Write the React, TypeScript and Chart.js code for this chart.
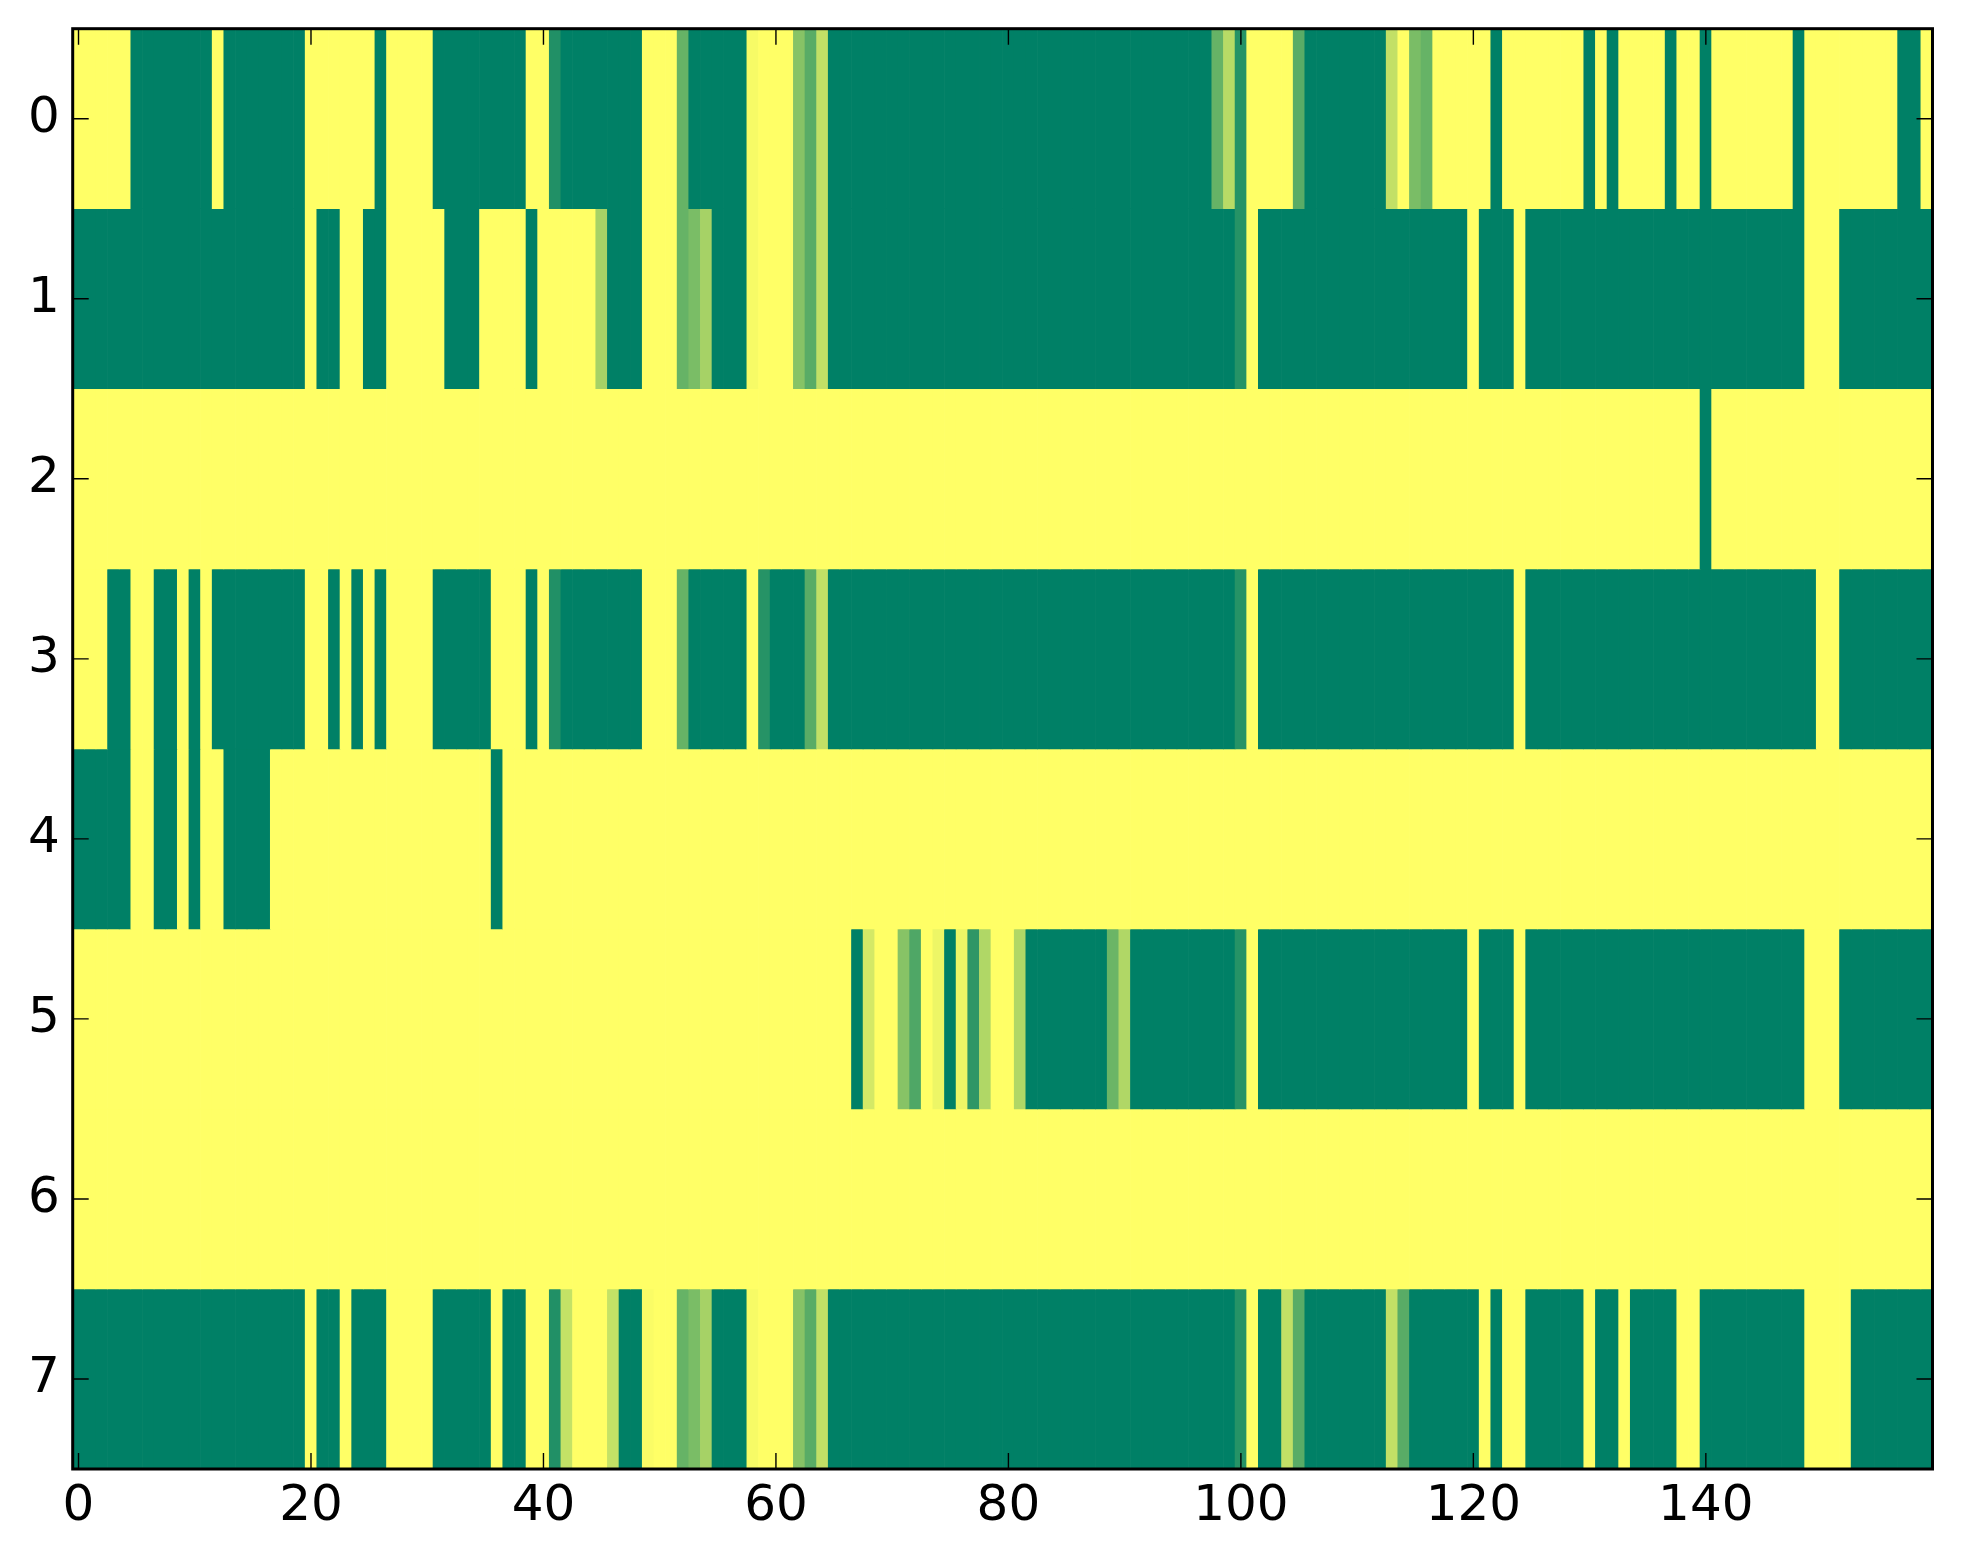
import { useEffect, useRef } from "react";
import { Chart, registerables } from "chart.js";

Chart.register(...registerables);

// Tick labels
const xTickValues = [0, 20, 40, 60, 80, 100, 120, 140];
const yTickValues = [0, 1, 2, 3, 4, 5, 6, 7];

// Cell values (0 = green, 1 = yellow on the "summer" colormap), 160 columns per row
const row0 = [
  1, 1, 1, 1, 1, 0, 0, 0, 0, 0,
  0, 0, 1, 0, 0, 0, 0, 0, 0, 0,
  1, 1, 1, 1, 1, 1, 0, 1, 1, 1,
  1, 0, 0, 0, 0, 0, 0, 0, 0, 1,
  1, 0.13, 0, 0, 0, 0, 0, 0, 0, 1,
  1, 1, 0.4, 0, 0, 0, 0, 0, 0.97, 1,
  1, 1, 0.53, 0.35, 0.76, 0, 0, 0, 0, 0,
  0, 0, 0, 0, 0, 0, 0, 0, 0, 0,
  0, 0, 0, 0, 0, 0, 0, 0, 0, 0,
  0, 0, 0, 0, 0, 0, 0, 0, 0.4, 0.72,
  0.15, 1, 1, 1, 1, 0.35, 0, 0, 0, 0,
  0, 0, 0, 0.76, 1, 0.48, 0.4, 1, 1, 1,
  1, 1, 0, 1, 1, 1, 1, 1, 1, 1,
  0, 1, 0, 1, 1, 1, 1, 0, 1, 1,
  0, 1, 1, 1, 1, 1, 1, 1, 0, 1,
  1, 1, 1, 1, 1, 1, 1, 0, 0, 1,
];

const row1 = [
  0, 0, 0, 0, 0, 0, 0, 0, 0, 0,
  0, 0, 0, 0, 0, 0, 0, 0, 0, 0,
  1, 0, 0, 1, 1, 0, 0, 1, 1, 1,
  1, 1, 0, 0, 0, 1, 1, 1, 1, 0,
  1, 1, 1, 1, 1, 0.65, 0, 0, 0, 1,
  1, 1, 0.4, 0.48, 0.65, 0, 0, 0, 0.97, 1,
  1, 1, 0.53, 0.35, 0.76, 0, 0, 0, 0, 0,
  0, 0, 0, 0, 0, 0, 0, 0, 0, 0,
  0, 0, 0, 0, 0, 0, 0, 0, 0, 0,
  0, 0, 0, 0, 0, 0, 0, 0, 0, 0,
  0.15, 1, 0, 0, 0, 0, 0, 0, 0, 0,
  0, 0, 0, 0, 0, 0, 0, 0, 0, 0,
  1, 0, 0, 0, 1, 0, 0, 0, 0, 0,
  0, 0, 0, 0, 0, 0, 0, 0, 0, 0,
  0, 0, 0, 0, 0, 0, 0, 0, 0, 1,
  1, 1, 0, 0, 0, 0, 0, 0, 0, 0,
];

const row2 = [
  1, 1, 1, 1, 1, 1, 1, 1, 1, 1,
  1, 1, 1, 1, 1, 1, 1, 1, 1, 1,
  1, 1, 1, 1, 1, 1, 1, 1, 1, 1,
  1, 1, 1, 1, 1, 1, 1, 1, 1, 1,
  1, 1, 1, 1, 1, 1, 1, 1, 1, 1,
  1, 1, 1, 1, 1, 1, 1, 1, 1, 1,
  1, 1, 1, 1, 1, 1, 1, 1, 1, 1,
  1, 1, 1, 1, 1, 1, 1, 1, 1, 1,
  1, 1, 1, 1, 1, 1, 1, 1, 1, 1,
  1, 1, 1, 1, 1, 1, 1, 1, 1, 1,
  1, 1, 1, 1, 1, 1, 1, 1, 1, 1,
  1, 1, 1, 1, 1, 1, 1, 1, 1, 1,
  1, 1, 1, 1, 1, 1, 1, 1, 1, 1,
  1, 1, 1, 1, 1, 1, 1, 1, 1, 1,
  0, 1, 1, 1, 1, 1, 1, 1, 1, 1,
  1, 1, 1, 1, 1, 1, 1, 1, 1, 1,
];

const row3 = [
  1, 1, 1, 0, 0, 1, 1, 0, 0, 1,
  0, 1, 0, 0, 0, 0, 0, 0, 0, 0,
  1, 1, 0, 1, 0, 1, 0, 1, 1, 1,
  1, 0, 0, 0, 0, 0, 1, 1, 1, 0,
  1, 0.13, 0, 0, 0, 0, 0, 0, 0, 1,
  1, 1, 0.4, 0, 0, 0, 0, 0, 1, 0.15,
  0, 0, 0, 0.35, 0.76, 0, 0, 0, 0, 0,
  0, 0, 0, 0, 0, 0, 0, 0, 0, 0,
  0, 0, 0, 0, 0, 0, 0, 0, 0, 0,
  0, 0, 0, 0, 0, 0, 0, 0, 0, 0,
  0.15, 1, 0, 0, 0, 0, 0, 0, 0, 0,
  0, 0, 0, 0, 0, 0, 0, 0, 0, 0,
  0, 0, 0, 0, 1, 0, 0, 0, 0, 0,
  0, 0, 0, 0, 0, 0, 0, 0, 0, 0,
  0, 0, 0, 0, 0, 0, 0, 0, 0, 0,
  1, 1, 0, 0, 0, 0, 0, 0, 0, 0,
];

const row4 = [
  0, 0, 0, 0, 0, 1, 1, 0, 0, 1,
  0, 1, 1, 0, 0, 0, 0, 1, 1, 1,
  1, 1, 1, 1, 1, 1, 1, 1, 1, 1,
  1, 1, 1, 1, 1, 1, 0, 1, 1, 1,
  1, 1, 1, 1, 1, 1, 1, 1, 1, 1,
  1, 1, 1, 1, 1, 1, 1, 1, 1, 1,
  1, 1, 1, 1, 1, 1, 1, 1, 1, 1,
  1, 1, 1, 1, 1, 1, 1, 1, 1, 1,
  1, 1, 1, 1, 1, 1, 1, 1, 1, 1,
  1, 1, 1, 1, 1, 1, 1, 1, 1, 1,
  1, 1, 1, 1, 1, 1, 1, 1, 1, 1,
  1, 1, 1, 1, 1, 1, 1, 1, 1, 1,
  1, 1, 1, 1, 1, 1, 1, 1, 1, 1,
  1, 1, 1, 1, 1, 1, 1, 1, 1, 1,
  1, 1, 1, 1, 1, 1, 1, 1, 1, 1,
  1, 1, 1, 1, 1, 1, 1, 1, 1, 1,
];

const row5 = [
  1, 1, 1, 1, 1, 1, 1, 1, 1, 1,
  1, 1, 1, 1, 1, 1, 1, 1, 1, 1,
  1, 1, 1, 1, 1, 1, 1, 1, 1, 1,
  1, 1, 1, 1, 1, 1, 1, 1, 1, 1,
  1, 1, 1, 1, 1, 1, 1, 1, 1, 1,
  1, 1, 1, 1, 1, 1, 1, 1, 1, 1,
  1, 1, 1, 1, 1, 1, 1, 0, 0.83, 1,
  1, 0.53, 0.31, 1, 0.93, 0, 0.93, 0.18, 0.69, 1,
  1, 0.69, 0, 0, 0, 0, 0, 0, 0, 0.42,
  0.69, 0, 0, 0, 0, 0, 0, 0, 0, 0,
  0.15, 1, 0, 0, 0, 0, 0, 0, 0, 0,
  0, 0, 0, 0, 0, 0, 0, 0, 0, 0,
  1, 0, 0, 0, 1, 0, 0, 0, 0, 0,
  0, 0, 0, 0, 0, 0, 0, 0, 0, 0,
  0, 0, 0, 0, 0, 0, 0, 0, 0, 1,
  1, 1, 0, 0, 0, 0, 0, 0, 0, 0,
];

const row6 = [
  1, 1, 1, 1, 1, 1, 1, 1, 1, 1,
  1, 1, 1, 1, 1, 1, 1, 1, 1, 1,
  1, 1, 1, 1, 1, 1, 1, 1, 1, 1,
  1, 1, 1, 1, 1, 1, 1, 1, 1, 1,
  1, 1, 1, 1, 1, 1, 1, 1, 1, 1,
  1, 1, 1, 1, 1, 1, 1, 1, 1, 1,
  1, 1, 1, 1, 1, 1, 1, 1, 1, 1,
  1, 1, 1, 1, 1, 1, 1, 1, 1, 1,
  1, 1, 1, 1, 1, 1, 1, 1, 1, 1,
  1, 1, 1, 1, 1, 1, 1, 1, 1, 1,
  1, 1, 1, 1, 1, 1, 1, 1, 1, 1,
  1, 1, 1, 1, 1, 1, 1, 1, 1, 1,
  1, 1, 1, 1, 1, 1, 1, 1, 1, 1,
  1, 1, 1, 1, 1, 1, 1, 1, 1, 1,
  1, 1, 1, 1, 1, 1, 1, 1, 1, 1,
  1, 1, 1, 1, 1, 1, 1, 1, 1, 1,
];

const row7 = [
  0, 0, 0, 0, 0, 0, 0, 0, 0, 0,
  0, 0, 0, 0, 0, 0, 0, 0, 0, 0,
  1, 0, 0, 1, 0, 0, 0, 1, 1, 1,
  1, 0, 0, 0, 0, 0, 1, 0, 0, 1,
  1, 0.13, 0.77, 1, 1, 1, 0.77, 0, 0, 0.98,
  1, 1, 0.4, 0.48, 0.65, 0, 0, 0, 0.97, 1,
  1, 1, 0.53, 0.35, 0.76, 0, 0, 0, 0, 0,
  0, 0, 0, 0, 0, 0, 0, 0, 0, 0,
  0, 0, 0, 0, 0, 0, 0, 0, 0, 0,
  0, 0, 0, 0, 0, 0, 0, 0, 0, 0,
  0.15, 1, 0, 0, 0.76, 0.35, 0, 0, 0, 0,
  0, 0, 0, 0.76, 0.35, 0, 0, 0, 0, 0,
  0, 1, 0, 1, 1, 0, 0, 0, 0, 0,
  1, 0, 0, 1, 0, 0, 0, 0, 1, 1,
  0, 0, 0, 0, 0, 0, 0, 0, 0, 1,
  1, 1, 1, 0, 0, 0, 0, 0, 0, 0,
];

const rows = [row0, row1, row2, row3, row4, row5, row6, row7];

// matplotlib "summer" colormap
function summer(v: number): string {
  const r = Math.round(255 * v);
  const g = Math.round(255 * (0.5 + 0.5 * v));
  return `rgb(${r},${g},102)`;
}

const FONT = { family: "'DejaVu Sans', sans-serif", size: 50 };

const framePlugin = {
  id: "frameTicks",
  afterDatasetsDraw(chart: any) {
    const { ctx, chartArea: a, scales } = chart;
    ctx.save();
    ctx.strokeStyle = "#000";
    ctx.lineWidth = 1.4;
    ctx.beginPath();
    xTickValues.forEach((v) => {
      const px = scales.x.getPixelForValue(v);
      ctx.moveTo(px, a.bottom);
      ctx.lineTo(px, a.bottom - 16);
      ctx.moveTo(px, a.top);
      ctx.lineTo(px, a.top + 16);
    });
    yTickValues.forEach((v) => {
      const py = scales.y.getPixelForValue(v);
      ctx.moveTo(a.left, py);
      ctx.lineTo(a.left + 16, py);
      ctx.moveTo(a.right, py);
      ctx.lineTo(a.right - 16, py);
    });
    ctx.stroke();
    ctx.lineWidth = 3;
    ctx.strokeRect(a.left, a.top, a.right - a.left, a.bottom - a.top);
    ctx.restore();
  },
};

export default function App() {
  const canvasRef = useRef<HTMLCanvasElement | null>(null);

  useEffect(() => {
    if (!canvasRef.current) return;
    const datasets = rows.map((vals, r) => ({
      label: `row ${r}`,
      data: vals.map((_, c) => ({ x: c, y: [r - 0.5, r + 0.5] })),
      backgroundColor: vals.map(summer),
      borderWidth: 0,
      barPercentage: 1,
      categoryPercentage: 1,
      grouped: false,
    }));

    const chart = new Chart(canvasRef.current, {
      type: "bar",
      data: { datasets: datasets as any },
      options: {
        animation: false,
        responsive: true,
        maintainAspectRatio: false,
        layout: { padding: { top: 28.7, right: 30.5, left: 0, bottom: 0 } },
        plugins: { legend: { display: false }, tooltip: { enabled: false } },
        scales: {
          x: {
            type: "linear",
            min: -0.5,
            max: 159.5,
            offset: false,
            grid: { display: false, drawTicks: false },
            border: { display: false },
            afterBuildTicks: (scale: any) => {
              scale.ticks = xTickValues.map((v) => ({ value: v }));
            },
            afterFit: (scale: any) => {
              scale.height = 95;
              scale.paddingLeft = 0;
              scale.paddingRight = 0;
            },
            ticks: {
              autoSkip: false,
              maxRotation: 0,
              minRotation: 0,
              padding: 8,
              color: "#000",
              font: FONT,
              callback: (v: any) => String(v),
            },
          },
          y: {
            type: "linear",
            reverse: true,
            min: -0.5,
            max: 7.5,
            grid: { display: false, drawTicks: false },
            border: { display: false },
            afterBuildTicks: (scale: any) => {
              scale.ticks = yTickValues.map((v) => ({ value: v }));
            },
            afterFit: (scale: any) => {
              scale.width = 72.7;
              scale.paddingTop = 0;
              scale.paddingBottom = 0;
            },
            ticks: {
              autoSkip: false,
              padding: 13,
              color: "#000",
              font: FONT,
              callback: (v: any) => String(v),
            },
          },
        },
      },
      plugins: [framePlugin],
    });
    return () => chart.destroy();
  }, []);

  return (
    <div
      style={{
        position: "fixed",
        left: 0,
        top: 0,
        width: 1963,
        height: 1564,
        background: "#fff",
      }}
    >
      <canvas ref={canvasRef} />
    </div>
  );
}
